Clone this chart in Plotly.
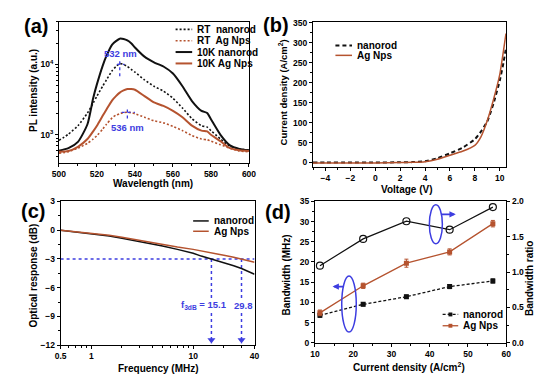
import plotly.graph_objects as go

# ---------------- data ----------------
# (a) PL spectra
wavelength = [500, 505, 510, 515, 518, 520, 523, 525, 528, 530, 532, 534, 536, 538, 540,
              545, 550, 555, 560, 565, 570, 575, 578, 580, 585, 590, 595, 600]
pl_10k_nanorod = [593, 646, 794, 1413, 3311, 5248, 9550, 13183, 19055, 21380, 23174, 22909, 21878, 19953,
                  17378, 12882, 10715, 9333, 7413, 4898, 3020, 2188, 2042, 1660, 1000, 708, 631, 603]
pl_rt_nanorod = [832, 1023, 1349, 2042, 2818, 3548, 4898, 6026, 8128, 9333, 10233, 10000, 9333, 8511,
                 7762, 6026, 4898, 4169, 3311, 2399, 1698, 1349, 1288, 1148, 871, 692, 631, 603]
pl_10k_ag = [575, 589, 676, 871, 1122, 1349, 1862, 2291, 3090, 3548, 3981, 4266, 4467, 4467,
             4365, 3548, 2884, 2570, 2188, 1778, 1349, 1148, 1122, 1000, 813, 646, 603, 589]
pl_rt_ag = [550, 575, 646, 759, 871, 977, 1202, 1413, 1738, 1905, 1995, 2065, 2089, 2065,
            1995, 1778, 1585, 1479, 1318, 1148, 977, 871, 851, 813, 724, 646, 589, 575]
peak_532_x = [532, 532]
peak_532_y = [6800, 11500]
peak_532_hx = [530.5, 534.5]
peak_532_hy = [10000, 10000]
peak_536_x = [536, 536]
peak_536_y = [1700, 2500]
peak_536_hx = [533, 540]
peak_536_hy = [2090, 2090]

# (b) J-V
voltage = [-5, -4, -2, 0, 2, 3, 4, 5, 6, 7, 8, 8.5, 9, 9.5, 10, 10.3, 10.5]
j_nanorod = [0, 0, 0, 0, 0.5, 1, 3, 11, 23, 37, 58, 78, 103, 148, 205, 250, 287]
j_ag = [-1, -1, -1, -1, 0, 0.5, 2, 8, 18, 28, 43, 65, 105, 158, 220, 280, 323]

# (c) frequency response
freq = [0.5, 0.7, 1, 1.5, 2, 3, 4, 5, 7, 10, 12, 15.1, 20, 25, 29.8, 35, 40]
resp_nanorod = [0, -0.17, -0.34, -0.6, -0.83, -1.17, -1.42, -1.64, -2.0, -2.4, -2.7, -3.0,
                -3.33, -3.7, -4.0, -4.3, -4.6]
resp_ag = [0, -0.15, -0.3, -0.52, -0.73, -1.07, -1.28, -1.47, -1.75, -2.0, -2.18, -2.38,
           -2.62, -2.82, -3.0, -3.2, -3.35]
f3db_level = -3
f3db_values = [15.1, 29.8]

# (d) bandwidth vs current density
current_density = [11.3, 22.6, 33.9, 45.2, 56.5]
bw_nanorod = [6.8, 9.5, 11.4, 13.9, 15.3]
bw_nanorod_err = [0.5, 0.4, 0.4, 0.5, 0.5]
bw_ag = [7.4, 14.1, 19.7, 22.5, 29.5]
bw_ag_err = [0.7, 0.65, 1.0, 0.75, 0.8]
bw_ratio = [1.09, 1.47, 1.72, 1.60, 1.92]

# ---------------- style ----------------
W, H = 550, 385
FONT = "Liberation Sans Narrow, Liberation Sans, Arial, sans-serif"
LABEL_FONT = "Liberation Sans, Arial, sans-serif"
BLACK = "#111111"
BROWN = "#b5532f"
BLUE = "#3d3de0"


def px(x):
    return x / W


def py(y):
    return 1 - y / H


def axis(**kw):
    base = dict(showline=True, linecolor="black", linewidth=1, mirror=True,
                ticks="outside", ticklen=3, tickwidth=1, tickcolor="black",
                showgrid=False, zeroline=False,
                tickfont=dict(family=FONT, size=8.5, color="black", weight="bold"),
                minor=dict(ticks="outside", ticklen=2, tickwidth=1, tickcolor="black"))
    base.update(kw)
    return base


fig = go.Figure()

# ---- (a)
fig.add_trace(go.Scatter(x=wavelength, y=pl_rt_nanorod, mode="lines", xaxis="x", yaxis="y",
                         line=dict(color=BLACK, width=1.6, dash="2px,2px", shape="spline", smoothing=0.6)))
fig.add_trace(go.Scatter(x=wavelength, y=pl_rt_ag, mode="lines", xaxis="x", yaxis="y",
                         line=dict(color=BROWN, width=1.6, dash="2px,2px", shape="spline", smoothing=0.6)))
fig.add_trace(go.Scatter(x=wavelength, y=pl_10k_nanorod, mode="lines", xaxis="x", yaxis="y",
                         line=dict(color=BLACK, width=2, shape="spline", smoothing=0.6)))
fig.add_trace(go.Scatter(x=wavelength, y=pl_10k_ag, mode="lines", xaxis="x", yaxis="y",
                         line=dict(color=BROWN, width=2, shape="spline", smoothing=0.6)))
for xs, ys in [(peak_532_x, peak_532_y), (peak_532_hx, peak_532_hy),
               (peak_536_x, peak_536_y), (peak_536_hx, peak_536_hy)]:
    fig.add_trace(go.Scatter(x=xs, y=ys, mode="lines", xaxis="x", yaxis="y",
                             line=dict(color=BLUE, width=1.3, dash="dot")))

# ---- (b)
fig.add_trace(go.Scatter(x=voltage, y=j_nanorod, mode="lines", xaxis="x2", yaxis="y2",
                         line=dict(color=BLACK, width=2, dash="4px,3px", shape="spline", smoothing=0.5)))
fig.add_trace(go.Scatter(x=voltage, y=j_ag, mode="lines", xaxis="x2", yaxis="y2",
                         line=dict(color=BROWN, width=1.5, shape="spline", smoothing=0.5)))

# ---- (c)
fig.add_trace(go.Scatter(x=[freq[0], freq[-1]], y=[f3db_level, f3db_level], mode="lines",
                         xaxis="x3", yaxis="y3", line=dict(color=BLUE, width=1.5, dash="dot")))
for fv in f3db_values:
    fig.add_trace(go.Scatter(x=[fv, fv], y=[f3db_level, -11.8], mode="lines",
                             xaxis="x3", yaxis="y3", line=dict(color=BLUE, width=1.5, dash="dot")))
fig.add_trace(go.Scatter(x=f3db_values, y=[-11.45, -11.45], mode="markers", xaxis="x3", yaxis="y3",
                         marker=dict(symbol="triangle-down", size=7, color=BLUE)))
fig.add_trace(go.Scatter(x=freq, y=resp_nanorod, mode="lines", xaxis="x3", yaxis="y3",
                         line=dict(color=BLACK, width=1.5)))
fig.add_trace(go.Scatter(x=freq, y=resp_ag, mode="lines", xaxis="x3", yaxis="y3",
                         line=dict(color=BROWN, width=1.5)))

# ---- (d)
fig.add_trace(go.Scatter(x=current_density, y=bw_ratio, mode="lines+markers", xaxis="x4", yaxis="y5",
                         line=dict(color=BLACK, width=1.2),
                         marker=dict(symbol="circle-open", size=7, color=BLACK, line=dict(width=1.2))))
fig.add_trace(go.Scatter(x=current_density, y=bw_nanorod, mode="lines+markers", xaxis="x4", yaxis="y4",
                         line=dict(color=BLACK, width=1.3, dash="3px,2px"),
                         marker=dict(symbol="square", size=5, color=BLACK),
                         error_y=dict(type="data", array=bw_nanorod_err, color=BLACK, thickness=1, width=2)))
fig.add_trace(go.Scatter(x=current_density, y=bw_ag, mode="lines+markers", xaxis="x4", yaxis="y4",
                         line=dict(color=BROWN, width=1.3),
                         marker=dict(symbol="square", size=5, color=BROWN),
                         error_y=dict(type="data", array=bw_ag_err, color=BROWN, thickness=1, width=2)))

# ---------------- layout ----------------
annotations = []
shapes = []


def text(x, y, s, size=10, color="black", xanchor="center", angle=0, bg=None, family=FONT):
    a = dict(x=px(x), y=py(y), xref="paper", yref="paper", text=s, showarrow=False,
             xanchor=xanchor, yanchor="middle", textangle=angle,
             font=dict(family=family, size=size, color=color, weight="bold"))
    if bg:
        a["bgcolor"] = bg
        a["borderpad"] = 0
    annotations.append(a)


def legend_entry(x0, x1, y, color, dash, width, label, marker=False, size=10):
    shapes.append(dict(type="line", xref="paper", yref="paper", x0=px(x0), x1=px(x1), y0=py(y), y1=py(y),
                       line=dict(color=color, width=width, dash=dash)))
    if marker:
        cx = (x0 + x1) / 2
        shapes.append(dict(type="rect", xref="paper", yref="paper", x0=px(cx - 2), x1=px(cx + 2),
                           y0=py(y + 2), y1=py(y - 2), fillcolor=color, line=dict(width=0)))
    text(x1 + 3, y, label, size=size, xanchor="left")


# panel labels
text(30, 22, "(a)", size=20, family=LABEL_FONT)
text(276, 21, "(b)", size=20, family=LABEL_FONT)
text(27, 211, "(c)", size=20, family=LABEL_FONT)
text(278, 213, "(d)", size=20, family=LABEL_FONT)

# axis titles
text(150, 183, "Wavelength (nm)")
text(27, 88, "PL intensity (a.u.)", angle=-90)
text(410, 189, "Voltage (V)")
text(283, 90, "Current density (A/cm<sup>2</sup>)", size=9.5, angle=-90)
text(155, 373, "Frequency (MHz)")
text(27.5, 278, "Optical response (dB)", angle=-90)
text(413, 371.5, "Current density (A/cm<sup>2</sup>)")
text(287, 277, "Bandwidth (MHz)", angle=-90)
text(536, 280, "Bandwidth ratio", angle=-90)

# blue labels
text(116.7, 49.5, "532 nm", size=9.5, color=BLUE)
text(123.5, 125.7, "536 nm", size=9.5, color=BLUE)
text(202, 308, "f<sub>3dB</sub> = 15.1", size=9.5, color=BLUE, bg="white")
text(242.5, 308, "29.8", size=9.5, color=BLUE, bg="white")

# legends
legend_entry(173, 190, 25, BLACK, "2px,2px", 1.6, "RT  nanorod")
legend_entry(173, 190, 36.7, BROWN, "2px,2px", 1.6, "RT  Ag Nps")
legend_entry(173, 190, 48.3, BLACK, "solid", 2, "10K nanorod")
legend_entry(173, 190, 60, BROWN, "solid", 2, "10K Ag Nps")
legend_entry(337, 354, 41.7, BLACK, "4px,3px", 2, "nanorod")
legend_entry(337, 354, 51.7, BROWN, "solid", 1.5, "Ag Nps")
legend_entry(191, 207, 221.7, BLACK, "solid", 1.5, "nanorod")
legend_entry(191, 207, 232.3, BROWN, "solid", 1.5, "Ag Nps")
legend_entry(447, 463, 317.7, BLACK, "3px,2px", 1.3, "nanorod", marker=True)
legend_entry(447, 463, 329.3, BROWN, "solid", 1.3, "Ag Nps", marker=True)

# (d) ellipses and arrows
shapes.append(dict(type="circle", xref="x4", yref="y4", x0=39.9, x1=43.3, y0=24.5, y1=34.2,
                   line=dict(color=BLUE, width=1.5)))
shapes.append(dict(type="circle", xref="x4", yref="y4", x0=17.0, x1=20.8, y0=2.65, y1=16.5,
                   line=dict(color=BLUE, width=1.5)))
annotations.append(dict(x=46.8, y=31.8, ax=42.6, ay=31.8, xref="x4", yref="y4", axref="x4", ayref="y4",
                        text="", showarrow=True, arrowhead=2, arrowsize=0.7, arrowwidth=1.8,
                        arrowcolor=BLUE, standoff=0, startstandoff=0))
annotations.append(dict(x=14.6, y=13.9, ax=17.8, ay=13.9, xref="x4", yref="y4", axref="x4", ayref="y4",
                        text="", showarrow=True, arrowhead=2, arrowsize=0.7, arrowwidth=1.8,
                        arrowcolor=BLUE, standoff=0, startstandoff=0))

fig.update_layout(
    width=W, height=H, margin=dict(l=0, r=0, t=0, b=0),
    paper_bgcolor="white", plot_bgcolor="white", showlegend=False,
    font=dict(family=FONT, color="black"),
    xaxis=axis(domain=[px(53.3), px(248.3)], anchor="y", range=[500, 600], dtick=20,
               minor=dict(ticks="outside", ticklen=2, tickcolor="black", dtick=10)),
    yaxis=axis(domain=[py(162), py(17.3)], anchor="x", type="log", range=[2.603, 4.604],
               tickvals=[1000, 10000], ticktext=["10<sup>3</sup>", "10<sup>4</sup>"],
               minor=dict(ticks="outside", ticklen=2, tickcolor="black",
                          tickvals=[500, 600, 700, 800, 900, 2000, 3000, 4000, 5000, 6000,
                                    7000, 8000, 9000, 20000, 30000, 40000])),
    xaxis2=axis(domain=[px(314), px(512)], anchor="y2", range=[-5, 10.5],
                tickvals=[-4, -2, 0, 2, 4, 6, 8, 10],
                minor=dict(ticks="outside", ticklen=2, tickcolor="black", dtick=1, tick0=0)),
    yaxis2=axis(domain=[py(166), py(17.3)], anchor="x2", range=[-10.5, 352.4], dtick=50,
                minor=dict(ticks="outside", ticklen=2, tickcolor="black", dtick=25)),
    xaxis3=axis(domain=[px(55), px(254)], anchor="y3", type="log", range=[-0.30103, 1.60206],
                tickvals=[0.5, 1, 10, 40], ticktext=["0.5", "1", "10", "40"],
                minor=dict(ticks="outside", ticklen=2, tickcolor="black",
                           tickvals=[0.6, 0.7, 0.8, 0.9, 2, 3, 4, 5, 6, 7, 8, 9, 20, 30])),
    yaxis3=axis(domain=[py(349.3), py(201.7)], anchor="x3", range=[-12, 3], dtick=3,
                minor=dict(ticks="outside", ticklen=2, tickcolor="black", dtick=1.5, tick0=0)),
    xaxis4=axis(domain=[px(316), px(512.3)], anchor="y4", range=[10, 60], dtick=10,
                minor=dict(ticks="outside", ticklen=2, tickcolor="black", dtick=5)),
    yaxis4=axis(domain=[py(346.7), py(201.7)], anchor="x4", range=[0, 35], dtick=5, mirror=False,
                minor=dict(ticks="outside", ticklen=2, tickcolor="black", dtick=2.5)),
    yaxis5=axis(overlaying="y4", side="right", anchor="x4", range=[0, 2.0], dtick=0.5,
                tickformat=".1f", mirror=False,
                minor=dict(ticks="outside", ticklen=2, tickcolor="black", dtick=0.25)),
    annotations=annotations, shapes=shapes,
)

fig.write_html("out.html", config={"displayModeBar": False},
               post_script="document.body.style.margin='0px';")
